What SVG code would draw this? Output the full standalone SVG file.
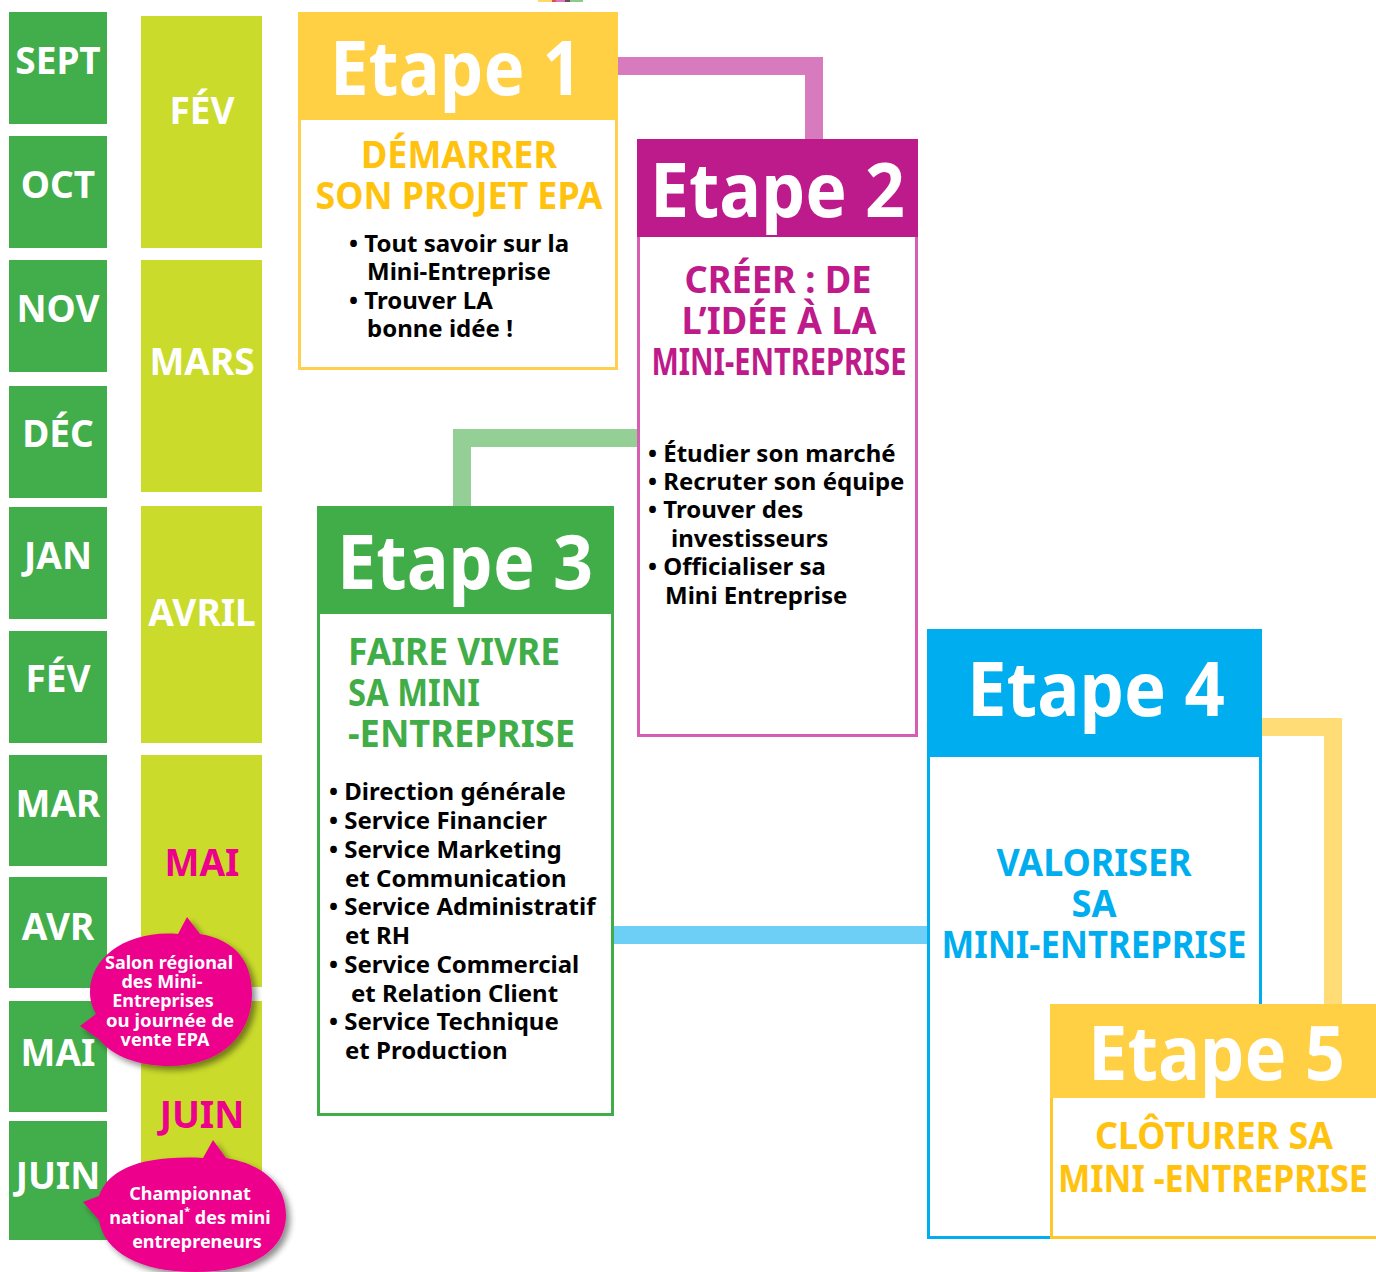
<svg xmlns="http://www.w3.org/2000/svg" width="1376" height="1272" viewBox="0 0 1376 1272">
<defs>
<style>
.m{fill:#42AD4B}
.l{fill:#CADB2B}
.mt{font-family:"Noto Sans","DejaVu Sans",sans-serif;font-weight:700;font-size:37px;fill:#fff;text-anchor:middle}
.pk{fill:#EC008C}
.et{font-family:"Noto Sans","DejaVu Sans",sans-serif;font-weight:700;font-size:76px;fill:#fff}
.ti{font-family:"Noto Sans","DejaVu Sans",sans-serif;font-weight:700;font-size:37px}
.bu{font-family:"Noto Sans","DejaVu Sans",sans-serif;font-weight:700;font-size:24px;fill:#000}
.bt{font-family:"Noto Sans","DejaVu Sans",sans-serif;font-weight:700;font-size:18px;fill:#fff;text-anchor:middle}
.cn{fill:none;stroke-width:18;stroke-linejoin:miter;stroke-linecap:butt}
.box{fill:#fff;stroke-width:3}
</style>
<filter id="sh" x="-20%" y="-20%" width="140%" height="140%">
<feGaussianBlur in="SourceAlpha" stdDeviation="3"/>
<feOffset dx="4" dy="4" result="b"/>
<feComponentTransfer><feFuncA type="linear" slope="0.45"/></feComponentTransfer>
<feMerge><feMergeNode/><feMergeNode in="SourceGraphic"/></feMerge>
</filter>
</defs>
<rect width="1376" height="1272" fill="#fff"/>

<g id="top-strip">
<rect x="538" y="0" width="14" height="2" fill="#FFD966"/>
<rect x="552" y="0" width="4" height="2" fill="#E05050"/>
<rect x="556" y="0" width="9" height="2" fill="#D878BE"/>
<rect x="565" y="0" width="5" height="2" fill="#6B4A5A"/>
<rect x="570" y="0" width="13" height="2" fill="#8CCB8C"/>
</g>

<g id="months-school">
<g id="m-sept"><rect class="m" x="9" y="12" width="98" height="112"/><text class="mt" x="58" y="74">SEPT</text></g>
<g id="m-oct"><rect class="m" x="9" y="136" width="98" height="112"/><text class="mt" x="58" y="198">OCT</text></g>
<g id="m-nov"><rect class="m" x="9" y="260" width="98" height="112"/><text class="mt" x="58" y="322">NOV</text></g>
<g id="m-dec"><rect class="m" x="9" y="386" width="98" height="112"/><text class="mt" x="58" y="447">DÉC</text></g>
<g id="m-jan"><rect class="m" x="9" y="507" width="98" height="112"/><text class="mt" x="58" y="569">JAN</text></g>
<g id="m-fev"><rect class="m" x="9" y="631" width="98" height="112"/><text class="mt" x="58" y="692">FÉV</text></g>
<g id="m-mar"><rect class="m" x="9" y="755" width="98" height="111"/><text class="mt" x="58" y="817">MAR</text></g>
<g id="m-avr"><rect class="m" x="9" y="877" width="98" height="111"/><text class="mt" x="58" y="940">AVR</text></g>
<g id="m-mai"><rect class="m" x="9" y="1001" width="98" height="111"/><text class="mt" x="58" y="1066">MAI</text></g>
<g id="m-juin"><rect class="m" x="9" y="1121" width="98" height="119"/><text class="mt" x="58" y="1189">JUIN</text></g>
</g>

<g id="months-alt">
<g id="l-fev"><rect class="l" x="141" y="16" width="121" height="232"/><text class="mt" x="202" y="124">FÉV</text></g>
<g id="l-mars"><rect class="l" x="141" y="260" width="121" height="232"/><text class="mt" x="202" y="375">MARS</text></g>
<g id="l-avril"><rect class="l" x="141" y="506" width="121" height="237"/><text class="mt" x="202" y="626">AVRIL</text></g>
<g id="l-mai"><rect class="l" x="141" y="755" width="121" height="232"/><text class="mt" x="202" y="876" style="fill:#EC008C">MAI</text></g>
<g id="l-juin"><rect class="l" x="141" y="1001" width="121" height="239"/><text class="mt" x="202" y="1128" style="fill:#EC008C">JUIN</text></g>
</g>

<g id="connectors">
<path class="cn" d="M618,66 H814 V140" stroke="#D87BBE"/>
<path class="cn" d="M637,438 H462 V506" stroke="#94D096"/>
<path class="cn" d="M613,935 H928" stroke="#6DCFF6" stroke-width="17"/>
<path class="cn" d="M1262,727 H1333 V1004" stroke="#FFDC75"/>
</g>

<g id="etape1">
<rect class="box" x="299.5" y="13.5" width="317" height="355" stroke="#FFD04F"/>
<rect x="298" y="12" width="320" height="108" fill="#FFCF44"/>
<text class="et" x="330" y="95" textLength="252" lengthAdjust="spacingAndGlyphs">Etape 1</text>
<text class="ti" x="459" y="168" fill="#FFC20E" text-anchor="middle" textLength="196" lengthAdjust="spacingAndGlyphs">DÉMARRER</text>
<text class="ti" x="459" y="209" fill="#FFC20E" text-anchor="middle" textLength="287" lengthAdjust="spacingAndGlyphs">SON PROJET EPA</text>
<text class="bu" x="349" y="252">• Tout savoir sur la</text>
<text class="bu" x="367" y="280">Mini-Entreprise</text>
<text class="bu" x="349" y="309">• Trouver LA</text>
<text class="bu" x="367" y="337">bonne idée !</text>
</g>

<g id="etape2">
<rect class="box" x="638.5" y="140.5" width="278" height="595" stroke="#D65DB1"/>
<rect x="637" y="139" width="281" height="98" fill="#BD1A8C"/>
<text class="et" x="650" y="217" textLength="255" lengthAdjust="spacingAndGlyphs">Etape 2</text>
<text class="ti" x="778" y="293" fill="#BE1A8A" text-anchor="middle" textLength="187" lengthAdjust="spacingAndGlyphs">CRÉER : DE</text>
<text class="ti" x="779" y="334" fill="#BE1A8A" text-anchor="middle" textLength="195" lengthAdjust="spacingAndGlyphs">L’IDÉE À LA</text>
<text class="ti" x="779" y="375" fill="#BE1A8A" text-anchor="middle" textLength="255" lengthAdjust="spacingAndGlyphs">MINI-ENTREPRISE</text>
<text class="bu" x="648" y="462">• Étudier son marché</text>
<text class="bu" x="648" y="490">• Recruter son équipe</text>
<text class="bu" x="648" y="518">• Trouver des</text>
<text class="bu" x="671" y="547">investisseurs</text>
<text class="bu" x="648" y="575">• Officialiser sa</text>
<text class="bu" x="665" y="604">Mini Entreprise</text>
</g>

<g id="etape3">
<rect class="box" x="318.5" y="507.5" width="294" height="607" stroke="#41AD49"/>
<rect x="317" y="506" width="297" height="108" fill="#41AD49"/>
<text class="et" x="337" y="589" textLength="256" lengthAdjust="spacingAndGlyphs">Etape 3</text>
<text class="ti" x="348" y="665" fill="#41AD49" textLength="212" lengthAdjust="spacingAndGlyphs">FAIRE VIVRE</text>
<text class="ti" x="348" y="706" fill="#41AD49" textLength="132" lengthAdjust="spacingAndGlyphs">SA MINI</text>
<text class="ti" x="348" y="747" fill="#41AD49" textLength="227" lengthAdjust="spacingAndGlyphs">-ENTREPRISE</text>
<text class="bu" x="329" y="800">• Direction générale</text>
<text class="bu" x="329" y="829">• Service Financier</text>
<text class="bu" x="329" y="858">• Service Marketing</text>
<text class="bu" x="345" y="887">et Communication</text>
<text class="bu" x="329" y="915">• Service Administratif</text>
<text class="bu" x="345" y="944">et RH</text>
<text class="bu" x="329" y="973">• Service Commercial</text>
<text class="bu" x="351" y="1002">et Relation Client</text>
<text class="bu" x="329" y="1030">• Service Technique</text>
<text class="bu" x="345" y="1059">et Production</text>
</g>

<g id="etape4">
<rect class="box" x="928.5" y="630.5" width="332" height="607" stroke="#00AEEF"/>
<rect x="927" y="629" width="335" height="128" fill="#00AEEF"/>
<text class="et" x="967" y="716" textLength="258" lengthAdjust="spacingAndGlyphs">Etape 4</text>
<text class="ti" x="1094" y="876" fill="#00AEEF" text-anchor="middle" textLength="195" lengthAdjust="spacingAndGlyphs">VALORISER</text>
<text class="ti" x="1094" y="917" fill="#00AEEF" text-anchor="middle" textLength="45" lengthAdjust="spacingAndGlyphs">SA</text>
<text class="ti" x="1094" y="958" fill="#00AEEF" text-anchor="middle" textLength="305" lengthAdjust="spacingAndGlyphs">MINI-ENTREPRISE</text>
</g>

<g id="etape5">
<rect class="box" x="1051.5" y="1005.5" width="330" height="232" stroke="#FFC72C"/>
<rect x="1050" y="1004" width="330" height="94" fill="#FFCF44"/>
<text class="et" x="1088" y="1080" textLength="257" lengthAdjust="spacingAndGlyphs">Etape 5</text>
<text class="ti" x="1214" y="1149" fill="#FFC20E" text-anchor="middle" textLength="238" lengthAdjust="spacingAndGlyphs">CLÔTURER SA</text>
<text class="ti" x="1213" y="1192" fill="#FFC20E" text-anchor="middle" textLength="310" lengthAdjust="spacingAndGlyphs">MINI -ENTREPRISE</text>
</g>

<g id="bubble-salon">
<path class="pk" filter="url(#sh)" d="M178,934 L187,917 L200,934 C236,940 252,962 252,994 C252,1035 220,1066 170,1066 C138,1066 112,1056 100,1040 L80,1026 L96,1014 C91,1005 90,998 90,992 C90,958 126,930 178,934 Z"/>
<text class="bt" x="169" y="969" textLength="128" lengthAdjust="spacingAndGlyphs">Salon régional</text>
<text class="bt" x="162" y="988">des Mini-</text>
<text class="bt" x="163" y="1007">Entreprises</text>
<text class="bt" x="170" y="1027" textLength="128" lengthAdjust="spacingAndGlyphs">ou journée de</text>
<text class="bt" x="165" y="1046">vente EPA</text>
</g>

<g id="bubble-championnat">
<path class="pk" filter="url(#sh)" d="M203,1158 L213,1140 L226,1158 C262,1164 286,1184 286,1215 C286,1248 256,1272 195,1272 C140,1272 104,1252 99,1220 L83,1202 L99,1196 C108,1170 140,1155 203,1158 Z"/>
<text class="bt" x="190" y="1200" font-size="20">Championnat</text>
<text class="bt" x="190" y="1224" font-size="20">national<tspan font-size="11" dy="-9">*</tspan><tspan dy="9"> des mini</tspan></text>
<text class="bt" x="197" y="1248" font-size="20">entrepreneurs</text>
</g>
</svg>
